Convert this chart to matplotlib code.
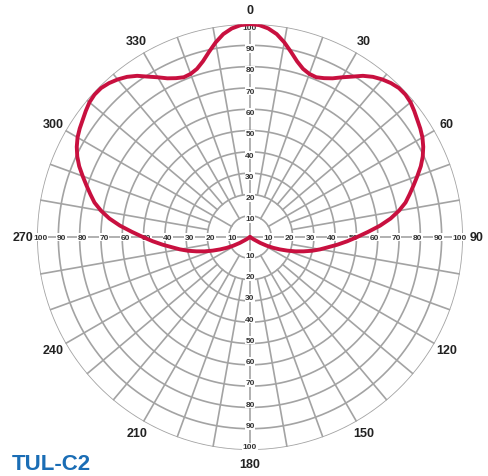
import numpy as np
import matplotlib
matplotlib.use("Agg")
from matplotlib import pyplot as plt

# candela distribution, right half (symmetric about 0-180)
angles = [0, 2.5, 5, 7.5, 10, 12.5, 15, 17.5, 20, 22.5, 25, 27.5, 30,
          32.5, 35, 37.5, 40, 42.5, 45, 47.5, 50, 52.5, 55, 57.5, 60,
          62.5, 65, 67.5, 70, 72.5, 75, 77.5, 80, 82.5, 85, 87.5, 90,
          92.5, 95, 97.5, 100, 102.5, 105, 107.5, 110, 112.5, 115,
          117.5, 120, 122.5, 125]
values = [100, 99.6, 98.3, 96.1, 92.8, 89, 85.4, 82.8, 81.5, 81.2, 82.3,
          84, 86.6, 89.3, 92.4, 94.8, 96.6, 98, 98.9, 99, 98.4, 97.2,
          95.9, 94.8, 93.5, 91.7, 89.5, 86.8, 83.6, 80.5, 77.6, 74.8, 71,
          66.6, 61.3, 55.5, 50.3, 45.7, 41.2, 36.9, 33.4, 29.8, 26, 22.4,
          18.7, 15.2, 12, 8.8, 5.5, 2, 0]
angle_labels = [0, 30, 60, 90, 120, 150, 180, 210, 240, 270, 300, 330]
rings = [10, 20, 30, 40, 50, 60, 70, 80, 90, 100]
title = "TUL-C2"

plt.rcParams['font.family'] = ['Liberation Sans', 'DejaVu Sans']
grid_c = '#a3a3a3'
curve_c = '#c8103f'

fig = plt.figure(figsize=(4.88, 4.77), dpi=100)
ax = fig.add_axes([0.0758, 0.0545, 0.873, 0.893], projection='polar')
ax.set_theta_zero_location('N')
ax.set_theta_direction(-1)
ax.set_ylim(0, 100)
ax.grid(False)
ax.spines['polar'].set_visible(False)
ax.set_xticks([])
ax.set_yticks([])

# rings
t = np.linspace(0, 2 * np.pi, 721)
for r in rings:
    ax.plot(t, np.full_like(t, r), color=grid_c, lw=1.2, zorder=1)

# spokes
for a in range(0, 360, 10):
    th = np.radians(a)
    if a % 90 == 0:
        r0 = 0
    elif a % 30 == 0:
        r0 = 10
    else:
        r0 = 20
    ax.plot([th, th], [r0, 100], color=grid_c, lw=1.2, zorder=1)

# radial value labels along the four axes
for a in [0, 90, 180, 270]:
    for r in rings:
        ax.text(np.radians(a), r - 1.5, str(r), ha='center', va='center',
                fontsize=6, fontweight='bold', color='#333333', zorder=3,
                bbox=dict(facecolor='white', edgecolor='none', pad=0.5))

# angle labels
for a in angle_labels:
    ax.text(np.radians(a), 106.5, str(a), ha='center', va='center',
            fontsize=9, fontweight='bold', color='#222222', clip_on=False)

# curve (mirror the half)
full_a = [-a for a in angles[::-1]] + angles[1:]
full_v = values[::-1] + values[1:]
ax.plot(np.radians(full_a), full_v, color=curve_c, lw=2.8, zorder=4,
        solid_capstyle='round', solid_joinstyle='round')

fig.text(12 / 488, 1 - 465 / 477, title, ha='left', va='center',
         fontsize=16, fontweight='bold', color='#1a6db5')

fig.savefig('out.png', dpi=100)
